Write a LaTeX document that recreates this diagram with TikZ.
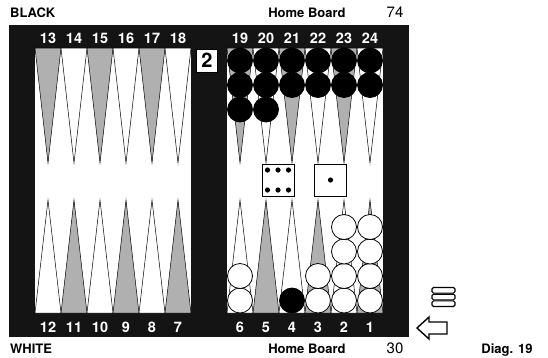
\documentclass[tikz,border=0pt]{standalone}
\usepackage{fontspec}
\setmainfont{TeX Gyre Heros}
\usepackage{tikz}
\usetikzlibrary{positioning}
\definecolor{pointgray}{RGB}{176,176,176}
\definecolor{boardblack}{RGB}{20,20,20}

\begin{document}
\begin{tikzpicture}[x=1pt,y=-1pt,
  every node/.style={inner sep=0pt},
  lbl/.style={anchor=base,font=\bfseries\fontsize{13}{13}\selectfont},
  pips/.style={anchor=base,font=\fontsize{15}{15}\selectfont},
  num/.style={anchor=base,text=white,font=\bfseries\fontsize{14.5}{14.5}\selectfont},
  pt/.style={draw=black,line width=0.5pt},
  chk/.style={draw=black,line width=0.8pt},
  die/.style={draw=black,fill=white,line width=0.8pt,minimum size=32pt},
  pip/.style={circle,fill=black,minimum size=5.2pt}]
  \useasboundingbox (0,0) rectangle (548,357);
  % board and the two halves
  \fill[boardblack] (9,25) rectangle (409,337);
  \fill[white] (35,48) rectangle (191,313);
  \fill[white] (227,48) rectangle (383,313);
  % points
  \foreach \i/\tc/\bc in {0/pointgray/white,1/white/pointgray,2/pointgray/white,
                          3/white/pointgray,4/pointgray/white,5/white/pointgray} {
    \foreach \xa in {35,227} {
      \filldraw[pt,fill=\tc] (\xa+26*\i,48) -- (\xa+26*\i+13,163) -- (\xa+26*\i+26,48) -- cycle;
      \filldraw[pt,fill=\bc] (\xa+26*\i,313) -- (\xa+26*\i+13,200) -- (\xa+26*\i+26,313) -- cycle;
    }
  }
  % point numbers
  \foreach \i in {0,...,5} {
    \pgfmathtruncatemacro\tl{13+\i}
    \pgfmathtruncatemacro\tr{19+\i}
    \pgfmathtruncatemacro\bl{12-\i}
    \pgfmathtruncatemacro\br{6-\i}
    \node[num] (n\tl) at (48+26*\i,43) {\tl};
    \node[num] (n\tr) at (240+26*\i,43) {\tr};
    \node[num] (n\bl) at (48+26*\i,332) {\bl};
    \node[num] (n\br) at (240+26*\i,332) {\br};
  }
  % black checkers
  \foreach \x/\k in {240/3,266/3,292/2,318/2,344/2,370/2}
    \foreach \j in {1,...,\k}
      \filldraw[chk,fill=black] (\x,{60.5+24.5*(\j-1)}) circle[radius=12.5];
  \filldraw[chk,fill=black] (292,300.5) circle[radius=12.5];
  % white checkers
  \foreach \x/\k in {240/2,318/2,344/4,370/4}
    \foreach \j in {1,...,\k}
      \filldraw[chk,fill=white] (\x,{300.5-24.5*(\j-1)}) circle[radius=12.5];
  % cube
  \node[draw=black,fill=white,minimum width=21pt,minimum height=23pt,
        font=\bfseries\fontsize{20}{20}\selectfont] (cube) at (207,60.5) {2};
  % dice
  \node[die] (die1) at (278,180) {};
  \foreach \dx in {-10.5,0,10.5}
    \foreach \dy in {-10,10}
      \node[pip] at ([shift={(\dx,\dy)}]die1.center) {};
  \node[die] (die2) at (330.5,180) {};
  \node[pip] at (die2.center) {};
  % borne off and direction
  \foreach \y in {287.5,294.2,300.9}
    \draw[line width=1.1pt,rounded corners=1.5pt] (432,\y) rectangle (455,\y+5.6);
  \draw[line width=1.4pt,fill=white] (417,328) -- (429,317) -- (429,322) -- (447,322)
    -- (447,334) -- (429,334) -- (429,339) -- cycle;
  % captions
  \node[lbl,anchor=base west] (black) at (10,17.3) {BLACK};
  \node[lbl] (homeT) at (307,17.3) {Home Board};
  \node[pips] (pipT) at (395,17.3) {74};
  \node[lbl,anchor=base west] (white) at (10,353.5) {WHITE};
  \node[lbl] (homeB) at (307,353.5) {Home Board};
  \node[pips] (pipB) at (395,353.5) {30};
  \node[lbl] (diag) at (507,353.5) {Diag. 19};
\end{tikzpicture}
\end{document}
